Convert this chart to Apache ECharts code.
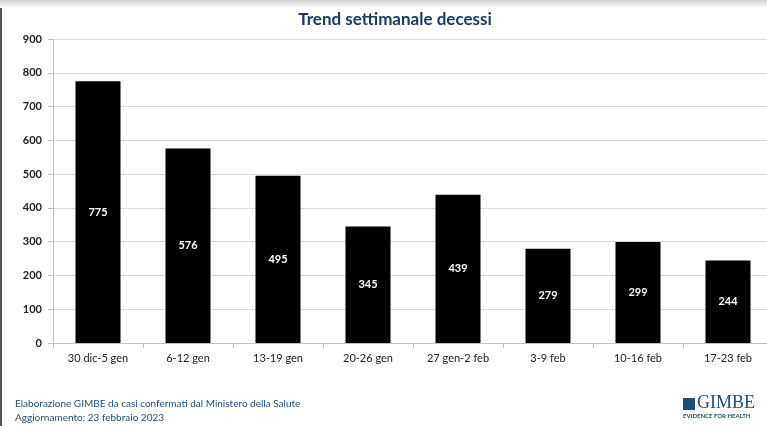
<!DOCTYPE html>
<html>
<head>
<meta charset="utf-8">
<script src="https://cdn.jsdelivr.net/npm/echarts@6/dist/echarts.min.js"></script>
<style>
  html,body{margin:0;padding:0;background:#fff;}
  #chart{width:767px;height:426px;}
</style>
</head>
<body>
<div id="chart"></div>
<script>
  //settimane
  var weeks = ['30 dic-5 gen','6-12 gen','13-19 gen','20-26 gen','27 gen-2 feb','3-9 feb','10-16 feb','17-23 feb'];
  //decessi settimanali
  var deaths = [775, 576, 495, 345, 439, 279, 299, 244];
  //asse y
  var yMin = 0, yMax = 900, yStep = 100;

  var font = 'Lato, "Open Sans", sans-serif';
  var blue = '#1f4e79';

  var myChart = echarts.init(document.getElementById('chart'));
  var option = {
    backgroundColor:'#fff',
    animation:false,
    title:{
      text:'Trend settimanale decessi',
      left:390, top:6, textAlign:'center',
      textStyle:{fontFamily:font, fontSize:17, fontWeight:'bold', color:'#1f3864'}
    },
    grid:{left:53, width:720, top:39, bottom:83, outerBoundsMode:'none', containLabel:false},
    xAxis:{
      type:'category',
      data:weeks,
      axisLine:{lineStyle:{color:'#bfbfbf'}},
      axisTick:{show:true, length:5, lineStyle:{color:'#bfbfbf'}},
      axisLabel:{fontFamily:font, fontSize:11, color:'#222', margin:10}
    },
    yAxis:{
      type:'value',
      min:yMin, max:yMax, interval:yStep,
      axisLine:{show:true, lineStyle:{color:'#bfbfbf'}},
      axisTick:{show:true, length:5, lineStyle:{color:'#bfbfbf'}},
      splitLine:{lineStyle:{color:'#d9d9d9'}},
      axisLabel:{fontFamily:font, fontSize:11, fontWeight:'bold', color:'#222', margin:11}
    },
    series:[{
      type:'bar',
      data:deaths,
      barWidth:'50%',
      itemStyle:{color:'#000'},
      label:{
        show:true, position:'inside',
        fontFamily:font, fontSize:11, fontWeight:'bold', color:'#fff'
      }
    }],
    graphic:[
      //bordo sinistro
      {type:'rect', left:0, top:0, shape:{width:2, height:426}, style:{fill:'#555'}},
      //ombra in alto
      {type:'rect', left:0, top:0, shape:{width:767, height:8},
        style:{fill:new echarts.graphic.LinearGradient(0,0,0,1,[{offset:0,color:'#d0d0d0'},{offset:1,color:'#ffffff'}])}},
      {type:'text', left:15, top:397,
        style:{text:'Elaborazione GIMBE da casi confermati dal Ministero della Salute\nAggiornamento: 23 febbraio 2023',
          fontFamily:font, fontSize:10, lineHeight:14, fill:blue}},
      //logo
      {type:'rect', left:683, top:398, shape:{width:12, height:12}, style:{fill:blue}},
      {type:'text', left:697, top:394,
        style:{text:'GIMBE', fontFamily:'"Liberation Serif", serif', fontSize:18, fill:blue}},
      {type:'text', left:683, top:413,
        style:{text:'EVIDENCE FOR HEALTH', fontFamily:font, fontSize:6, fontWeight:'bold', fill:blue, letterSpacing:0.5}}
    ]
  };
  myChart.setOption(option);
</script>
</body>
</html>
